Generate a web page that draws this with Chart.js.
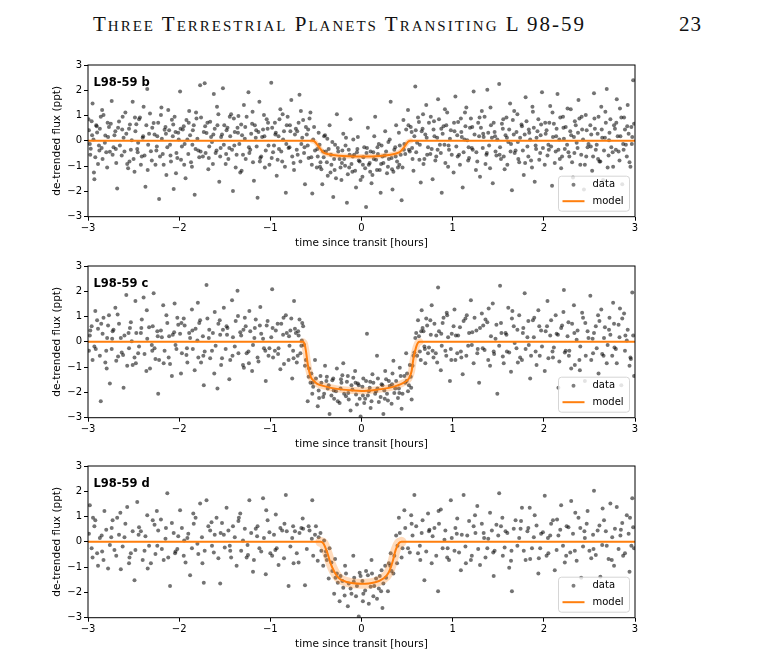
<!DOCTYPE html>
<html>
<head>
<meta charset="utf-8">
<script src="https://cdn.jsdelivr.net/npm/chart.js@4.4.1/dist/chart.umd.min.js"></script>
<style>
  body { margin: 0; background: #fff; }
  #page { position: relative; width: 775px; height: 665px; overflow: hidden; background: #fff; }
  .runhead { position: absolute; top: 13px; left: 93px; font-family: "Liberation Serif", "DejaVu Serif", serif;
             font-size: 21px; font-variant: small-caps; letter-spacing: 2px; line-height: 22px; color: #111; white-space: nowrap; }
  .folio { position: absolute; top: 13px; left: 679px; font-family: "Liberation Serif", "DejaVu Serif", serif;
           font-size: 21px; letter-spacing: 1px; line-height: 22px; color: #111; }
  canvas { position: absolute; left: 40px; }
</style>
</head>
<body>
<div id="page">
  <div class="runhead">Three Terrestrial Planets Transiting L 98-59</div>
  <div class="folio">23</div>
  <canvas id="panelB" width="610" height="200" style="top:55px"></canvas>
  <canvas id="panelC" width="610" height="200" style="top:256px"></canvas>
  <canvas id="panelD" width="610" height="200" style="top:456px"></canvas>
</div>
<script>
// axis ticks (hours / ppt)
const xTicks = [-3, -2, -1, 0, 1, 2, 3];
const yTicks = [-3, -2, -1, 0, 1, 2, 3];
const legendLabels = ['data', 'model'];

// L98-59 b : phase-folded points [time, flux]
const bPoints = [
  [-2.99,0.42],[-2.97,-0.31],[-2.95,1.48],[-2.93,-1.52],[-2.91,0.62],[-2.88,-0.18],[-2.86,0.95],[-2.84,-0.72],[-2.81,0.21],[-2.79,-1.05],[-2.77,0.55],[-2.76,-0.43],
  [-2.74,1.58],[-2.72,-0.25],[-2.70,0.38],[-2.68,-1.88],[-2.66,0.77],[-2.63,-0.58],[-2.61,0.12],[-2.59,1.12],[-2.57,-0.92],[-2.55,0.48],[-2.53,-0.35],[-2.51,1.55],
  [-2.49,-1.22],[-2.47,0.66],[-2.45,-0.08],[-2.43,0.92],[-2.41,-0.62],[-2.39,1.35],[-2.37,-1.82],[-2.35,2.05],[-2.33,0.28],[-2.31,-0.41],[-2.28,0.71],[-2.26,-0.95],
  [-2.24,0.18],[-2.22,-2.30],[-2.20,1.02],[-2.18,-0.52],[-2.16,0.44],[-2.14,-1.35],[-2.12,1.22],[-2.10,-0.15],[-2.08,0.83],[-2.06,-1.90],[-2.04,0.35],[-2.02,-0.68],
  [-1.99,1.95],[-1.97,-0.22],[-1.95,0.58],[-1.93,-1.48],[-1.91,0.05],[-1.89,1.18],[-1.87,-0.85],[-1.85,0.42],[-1.83,-2.13],[-1.81,0.88],[-1.79,-0.38],[-1.77,2.20],
  [-1.74,-0.62],[-1.72,2.28],[-1.70,0.31],[-1.68,-1.12],[-1.66,0.76],[-1.64,-0.05],[-1.62,1.85],[-1.60,-0.48],[-1.58,0.62],[-1.56,-1.62],[-1.54,0.15],[-1.52,2.08],
  [-1.49,-0.92],[-1.47,0.52],[-1.45,-0.28],[-1.43,1.05],[-1.41,-1.98],[-1.39,0.35],[-1.37,-0.55],[-1.35,0.98],[-1.33,-1.25],[-1.31,0.22],[-1.29,1.42],[-1.27,-0.72],
  [-1.24,1.92],[-1.22,-0.35],[-1.20,0.68],[-1.18,-1.58],[-1.16,0.12],[-1.14,-2.25],[-1.12,1.55],[-1.10,-0.62],[-1.08,0.45],[-1.06,-1.05],[-1.04,0.85],[-1.02,-0.18],
  [-0.99,2.30],[-0.97,-0.45],[-0.95,0.72],[-0.93,-1.38],[-0.91,0.18],[-0.89,1.25],[-0.87,-0.82],[-0.85,0.38],[-0.83,-2.05],[-0.81,0.95],[-0.79,-0.25],[-0.77,1.62],
  [-0.74,-1.15],[-0.72,0.48],[-0.70,-0.55],[-0.68,1.82],[-0.66,-0.12],[-0.64,0.82],[-0.62,-1.72],[-0.60,0.25],[-0.58,-0.68],[-0.56,1.12],[-0.54,-2.08],[-0.52,0.55],
  [-0.49,-1.05],[-0.47,0.32],[-0.45,-0.85],[-0.43,-1.72],[-0.41,0.18],[-0.39,-0.42],[-0.37,-1.38],[-0.35,0.62],[-0.33,-0.95],[-0.31,-2.22],[-0.29,-0.15],[-0.27,1.05],
  [-0.24,-0.72],[-0.22,-1.55],[-0.20,0.28],[-0.18,-0.98],[-0.16,-2.45],[-0.14,-0.35],[-0.12,0.85],[-0.10,-1.22],[-0.08,-0.55],[-0.06,-1.85],[-0.04,0.15],[-0.02,-0.82],
  [0.01,-1.42],[0.03,-0.25],[0.05,-2.62],[0.07,0.52],[0.09,-0.88],[0.11,-1.68],[0.13,-0.45],[0.15,0.95],[0.17,-1.15],[0.19,-0.12],[0.21,-2.05],[0.23,-0.62],
  [0.26,0.38],[0.28,-1.28],[0.30,-0.72],[0.32,1.55],[0.34,-1.92],[0.36,-0.35],[0.38,0.62],[0.40,-1.05],[0.42,-0.18],[0.44,-2.35],[0.46,0.82],[0.48,-0.52],
  [0.51,1.22],[0.53,-0.42],[0.55,0.35],[0.57,-1.18],[0.59,2.15],[0.61,-0.08],[0.63,0.75],[0.65,-1.65],[0.67,0.48],[0.69,-0.72],[0.71,1.42],[0.73,-0.25],
  [0.76,0.95],[0.78,-1.52],[0.80,0.18],[0.82,-0.62],[0.84,1.65],[0.86,-0.15],[0.88,-2.05],[0.90,0.58],[0.92,-0.88],[0.94,1.12],[0.96,-0.35],[0.98,0.42],
  [1.01,-1.25],[1.03,1.75],[1.05,0.22],[1.07,-0.55],[1.09,0.88],[1.11,-1.85],[1.13,0.05],[1.15,1.32],[1.17,-0.78],[1.19,0.52],[1.21,-0.28],[1.23,1.95],
  [1.26,-0.45],[1.28,0.72],[1.30,-1.42],[1.32,1.18],[1.34,0.15],[1.36,-0.92],[1.38,2.02],[1.40,-0.18],[1.42,0.62],[1.44,-1.68],[1.46,0.35],[1.48,-0.58],
  [1.51,2.25],[1.53,-0.72],[1.55,0.48],[1.57,-1.12],[1.59,0.92],[1.61,-0.05],[1.63,1.48],[1.65,-1.95],[1.67,0.25],[1.69,-0.38],[1.71,1.05],[1.73,-0.85],
  [1.76,0.58],[1.78,-1.35],[1.80,1.72],[1.82,-0.22],[1.84,0.32],[1.86,-0.78],[1.88,1.15],[1.90,-1.62],[1.92,0.12],[1.94,0.85],[1.96,-0.48],[1.98,1.92],
  [2.01,-0.95],[2.03,0.42],[2.05,-0.15],[2.07,1.38],[2.09,-1.78],[2.11,0.68],[2.13,-0.42],[2.15,1.85],[2.17,0.05],[2.19,-1.08],[2.21,0.95],[2.23,-0.32],
  [2.26,1.28],[2.28,-0.62],[2.30,0.22],[2.32,-1.45],[2.34,0.78],[2.36,-0.08],[2.38,1.62],[2.40,-0.95],[2.42,0.45],[2.44,-1.92],[2.46,1.02],[2.48,-0.25],
  [2.51,0.62],[2.53,-1.18],[2.55,1.88],[2.57,-0.35],[2.59,0.28],[2.61,-0.82],[2.63,1.35],[2.65,-1.55],[2.67,0.12],[2.69,2.05],[2.71,-0.58],[2.73,0.85],
  [2.76,-1.02],[2.78,0.48],[2.80,1.65],[2.82,-0.42],[2.84,0.18],[2.86,-1.72],[2.88,0.92],[2.90,-0.15],[2.92,1.42],[2.94,-0.85],[2.96,0.55],[2.98,2.40],
  [-2.98,-0.12],[-2.96,0.78],[-2.94,0.05],[-2.92,-0.65],[-2.90,0.33],[-2.89,-0.92],[-2.87,0.48],[-2.85,-0.28],[-2.83,1.02],[-2.80,-0.45],[-2.78,0.15],[-2.75,0.68],
  [-2.73,-0.55],[-2.71,0.22],[-2.69,-0.88],[-2.67,0.52],[-2.65,-0.18],[-2.62,0.95],[-2.60,-0.42],[-2.58,0.28],[-2.56,-1.08],[-2.54,0.65],[-2.52,0.02],[-2.50,-0.72],
  [-2.48,0.38],[-2.46,-0.32],[-2.44,0.85],[-2.42,-0.95],[-2.40,0.12],[-2.38,-0.58],[-2.36,0.62],[-2.34,-0.15],[-2.32,1.08],[-2.30,-0.78],[-2.27,0.25],[-2.25,-0.38],
  [-2.23,0.72],[-2.21,-0.62],[-2.19,0.08],[-2.17,-0.95],[-2.15,0.55],[-2.13,-0.25],[-2.11,0.42],[-2.09,-0.82],[-2.07,0.18],[-2.05,0.95],[-2.03,-0.48],[-2.01,0.32],
  [-1.98,-0.75],[-1.96,0.45],[-1.94,-0.12],[-1.92,0.82],[-1.90,-0.52],[-1.88,0.22],[-1.86,-1.02],[-1.84,0.62],[-1.82,-0.32],[-1.80,0.08],[-1.78,-0.65],[-1.76,0.92],
  [-1.73,0.35],[-1.71,-0.48],[-1.69,0.72],[-1.67,-0.22],[-1.65,0.15],[-1.63,-0.92],[-1.61,0.48],[-1.59,-0.38],[-1.57,1.05],[-1.55,-0.62],[-1.53,0.25],[-1.51,-0.15],
  [-1.48,0.42],[-1.46,-0.72],[-1.44,0.18],[-1.42,-0.35],[-1.40,0.88],[-1.38,-1.05],[-1.36,0.52],[-1.34,-0.12],[-1.32,0.65],[-1.30,-0.55],[-1.28,0.08],[-1.26,0.95],
  [-1.23,-0.48],[-1.21,0.28],[-1.19,-0.85],[-1.17,0.62],[-1.15,-0.22],[-1.13,0.35],[-1.11,-0.68],[-1.09,0.15],[-1.07,1.02],[-1.05,-0.38],[-1.03,0.48],[-1.01,-0.95],
  [-0.98,0.52],[-0.96,-0.18],[-0.94,0.32],[-0.92,-0.75],[-0.90,0.85],[-0.88,-0.42],[-0.86,0.05],[-0.84,-1.02],[-0.82,0.62],[-0.80,-0.28],[-0.78,0.38],[-0.76,-0.62],
  [-0.73,0.25],[-0.71,-0.35],[-0.69,0.72],[-0.67,-0.82],[-0.65,0.12],[-0.63,-0.48],[-0.61,0.55],[-0.59,-0.18],[-0.57,0.88],[-0.55,-0.65],[-0.53,0.05],[-0.51,-0.38],
  [-0.48,-0.62],[-0.46,-0.15],[-0.44,-1.12],[-0.42,-0.42],[-0.40,0.22],[-0.38,-0.85],[-0.36,-0.32],[-0.34,-1.25],[-0.32,-0.05],[-0.30,-0.72],[-0.28,-1.48],[-0.26,-0.28],
  [-0.23,-1.05],[-0.21,-0.38],[-0.19,-0.72],[-0.17,0.12],[-0.15,-1.32],[-0.13,-0.55],[-0.11,-0.92],[-0.09,0.05],[-0.07,-1.18],[-0.05,-0.45],[-0.03,-0.78],[-0.01,-1.55],
  [0.02,-0.65],[0.04,-1.08],[0.06,-0.28],[0.08,-0.95],[0.10,-0.42],[0.12,-1.35],[0.14,0.18],[0.16,-0.75],[0.18,-0.52],[0.20,-1.15],[0.22,-0.18],[0.24,-0.88],
  [0.27,-0.42],[0.29,-1.02],[0.31,0.05],[0.33,-0.68],[0.35,-1.22],[0.37,-0.25],[0.39,-0.82],[0.41,0.32],[0.43,-0.55],[0.45,-1.05],[0.47,-0.12],[0.49,0.45],
  [0.52,-0.35],[0.54,0.55],[0.56,-0.72],[0.58,0.18],[0.60,-0.45],[0.62,0.92],[0.64,-0.15],[0.66,0.38],[0.68,-0.92],[0.70,0.25],[0.72,-0.55],[0.74,0.72],
  [0.77,-0.32],[0.79,0.45],[0.81,-0.78],[0.83,0.12],[0.85,0.85],[0.87,-0.48],[0.89,0.28],[0.91,-0.15],[0.93,0.62],[0.95,-1.02],[0.97,0.08],[0.99,-0.55],
  [1.02,0.38],[1.04,-0.22],[1.06,0.75],[1.08,-0.95],[1.10,0.15],[1.12,-0.45],[1.14,0.58],[1.16,0.02],[1.18,-0.68],[1.20,0.88],[1.22,-0.35],[1.24,0.25],
  [1.27,-0.82],[1.29,0.18],[1.31,0.52],[1.33,-0.28],[1.35,0.95],[1.37,-0.55],[1.39,0.32],[1.41,-1.08],[1.43,0.12],[1.45,0.72],[1.47,-0.42],[1.49,0.05],
  [1.52,-0.25],[1.54,0.68],[1.56,-0.62],[1.58,0.22],[1.60,-0.95],[1.62,0.45],[1.64,-0.12],[1.66,0.82],[1.68,-0.48],[1.70,0.35],[1.72,-0.72],[1.74,0.12],
  [1.77,-0.38],[1.79,0.25],[1.81,0.78],[1.83,-0.62],[1.85,0.05],[1.87,-1.05],[1.89,0.52],[1.91,-0.18],[1.93,0.38],[1.95,-0.75],[1.97,0.65],[1.99,-0.28],
  [2.02,0.28],[2.04,-0.58],[2.06,0.72],[2.08,-0.22],[2.10,0.15],[2.12,-0.88],[2.14,0.48],[2.16,-0.35],[2.18,0.92],[2.20,-0.62],[2.22,0.08],[2.24,0.55],
  [2.27,-0.45],[2.29,0.38],[2.31,-0.85],[2.33,0.15],[2.35,0.62],[2.37,-0.28],[2.39,0.88],[2.41,-0.55],[2.43,0.05],[2.45,-0.95],[2.47,0.42],[2.49,-0.12],
  [2.52,0.25],[2.54,-0.62],[2.56,0.48],[2.58,-0.15],[2.60,0.95],[2.62,-0.82],[2.64,0.12],[2.66,-0.38],[2.68,0.72],[2.70,-1.05],[2.72,0.32],[2.74,-0.25],
  [2.77,0.62],[2.79,-0.35],[2.81,0.18],[2.83,-0.78],[2.85,0.92],[2.87,-0.12],[2.89,0.45],[2.91,-0.62],[2.93,0.28],[2.95,-1.02],[2.97,0.15],[2.99,0.68],
  [-2.995,0.85],[-2.975,-0.55],[-2.955,0.22],[-2.935,-1.25],[-2.905,0.58],[-2.875,-0.38],[-2.845,1.22],[-2.815,-0.08],[-2.785,0.72],[-2.695,-0.32],[-2.625,0.45],[-2.545,-0.82],
  [-2.485,0.92],[-2.455,-0.45],[-2.395,0.18],[-2.345,-1.15],[-2.295,0.52],[-2.245,-0.22],[-2.195,1.32],[-2.145,0.28],[-2.095,-0.58],[-2.065,0.65],[-2.035,-1.28],[-2.005,0.05],
  [-1.985,0.48],[-1.945,-0.95],[-1.895,0.72],[-1.855,-0.15],[-1.815,1.12],[-1.765,-0.42],[-1.715,0.58],[-1.675,-0.68],[-1.625,0.25],[-1.585,1.35],[-1.545,-0.28],[-1.505,0.62],
  [-1.485,-0.52],[-1.445,0.95],[-1.395,-0.18],[-1.355,0.32],[-1.315,-1.18],[-1.275,0.55],[-1.235,-0.25],[-1.195,1.15],[-1.155,0.42],[-1.115,-0.82],[-1.065,0.18],[-1.025,0.72],
  [-0.985,-0.68],[-0.945,0.25],[-0.905,-0.32],[-0.865,1.05],[-0.825,-0.12],[-0.785,0.62],[-0.745,-0.88],[-0.705,0.38],[-0.665,1.18],[-0.625,-0.25],[-0.585,0.45],[-0.545,-0.95],
  [-0.485,-0.32],[-0.455,-1.02],[-0.415,-0.65],[-0.375,0.08],[-0.335,-0.55],[-0.295,-1.15],[-0.255,-0.42],[-0.215,-0.88],[-0.175,-0.18],[-0.135,-1.05],[-0.095,-0.62],[-0.045,-0.32],
  [0.015,-0.95],[0.055,-0.48],[0.095,-1.22],[0.135,-0.72],[0.175,-0.25],[0.215,-0.92],[0.255,-0.58],[0.295,-0.05],[0.335,-1.12],[0.375,-0.62],[0.415,-0.95],[0.465,-0.35],
  [0.515,0.62],[0.555,-0.28],[0.595,0.42],[0.635,-0.75],[0.675,1.05],[0.715,0.12],[0.755,-0.52],[0.795,0.78],[0.835,-0.35],[0.875,0.48],[0.915,1.25],[0.955,-0.18],
  [1.015,0.72],[1.055,-0.62],[1.095,0.35],[1.135,1.12],[1.175,-0.25],[1.215,0.55],[1.255,-1.15],[1.295,0.92],[1.335,0.28],[1.375,-0.48],[1.415,1.32],[1.465,0.18],
  [1.515,-0.55],[1.555,0.85],[1.595,0.12],[1.635,-0.42],[1.675,1.18],[1.715,-0.05],[1.755,0.65],[1.795,-0.88],[1.835,0.45],[1.875,1.35],[1.915,-0.32],[1.965,0.22],
  [2.015,0.72],[2.055,-0.35],[2.095,1.12],[2.135,0.18],[2.175,-0.72],[2.215,0.52],[2.255,-0.15],[2.295,1.25],[2.335,-0.48],[2.375,0.32],[2.415,0.95],[2.465,-0.62],
  [2.515,-0.22],[2.555,0.88],[2.595,-0.72],[2.635,0.45],[2.675,1.15],[2.715,0.02],[2.755,-0.45],[2.795,0.72],[2.835,1.28],[2.875,-0.35],[2.915,0.58],[2.965,-0.12]
];
const bModel = [
  [-3,0],[-0.54,0],[-0.51,-0.04],[-0.47,-0.23],[-0.42,-0.45],[-0.36,-0.53],[-0.25,-0.59],[0,-0.62],
  [0.2,-0.6],[0.3,-0.56],[0.38,-0.5],[0.42,-0.44],[0.47,-0.24],[0.51,-0.04],[0.54,0],[3,0]
];

// L98-59 c
const cPoints = [
  [-2.98,0.25],[-2.95,-0.72],[-2.92,1.22],[-2.89,0.52],[-2.86,-2.35],[-2.83,0.95],[-2.80,-0.35],[-2.78,0.65],[-2.76,-1.65],
  [-2.73,0.42],[-2.70,1.35],[-2.67,-0.58],[-2.64,0.15],[-2.61,-1.82],[-2.58,1.85],[-2.55,-0.25],[-2.53,0.78],[-2.51,-0.92],
  [-2.48,1.62],[-2.45,-0.45],[-2.42,0.35],[-2.39,1.75],[-2.36,-1.15],[-2.33,0.58],[-2.30,-0.12],[-2.28,1.92],[-2.26,-0.68],
  [-2.23,-2.05],[-2.20,0.45],[-2.17,-0.85],[-2.14,1.05],[-2.11,0.22],[-2.08,-1.35],[-2.05,1.52],[-2.03,-0.28],[-2.01,0.68],
  [-1.98,-1.25],[-1.95,0.92],[-1.92,-0.52],[-1.89,0.35],[-1.86,1.28],[-1.83,-1.12],[-1.80,0.05],[-1.78,0.75],[-1.76,-0.82],
  [-1.73,-1.72],[-1.70,2.25],[-1.67,0.48],[-1.64,-0.35],[-1.61,1.18],[-1.58,-1.85],[-1.55,0.28],[-1.53,-0.65],[-1.51,1.35],
  [-1.48,0.62],[-1.45,-1.48],[-1.42,1.65],[-1.39,-0.18],[-1.36,2.02],[-1.33,0.38],[-1.30,-0.92],[-1.28,0.95],[-1.26,-0.45],
  [-1.23,1.22],[-1.20,-1.15],[-1.17,0.55],[-1.14,-0.62],[-1.11,1.38],[-1.08,0.12],[-1.05,-1.55],[-1.03,0.82],[-1.01,-0.25],
  [-0.98,2.08],[-0.95,-0.35],[-0.92,0.72],[-0.89,-1.08],[-0.86,0.28],[-0.83,1.05],[-0.80,-0.72],[-0.78,0.45],[-0.76,-1.45],
  [-0.74,1.62],[-0.72,0.35],[-0.70,-0.55],[-0.68,0.88],[-0.66,-0.15],[-0.64,0.62],[-0.62,-0.95],[-0.59,-2.35],[-0.56,-1.62],
  [-0.54,-2.05],[-0.51,-0.72],[-0.48,-2.55],[-0.45,-1.35],[-0.42,-2.18],[-0.40,-0.95],[-0.37,-1.85],[-0.35,-2.85],[-0.32,-1.52],[-0.30,-2.25],[-0.27,-1.05],
  [-0.24,-2.42],[-0.22,-1.62],[-0.20,-0.85],[-0.17,-2.15],[-0.15,-1.35],[-0.12,-2.72],[-0.10,-1.88],[-0.07,-1.15],[-0.05,-2.48],[-0.03,-1.72],[-0.01,-2.95],
  [0.02,-1.45],[0.04,-2.25],[0.06,0.32],[0.08,-1.95],[0.10,-2.62],[0.12,-1.28],[0.15,-2.05],[0.17,-0.55],[0.19,-2.38],[0.22,-1.68],[0.24,-2.85],
  [0.26,-1.15],[0.28,-2.05],[0.30,-1.55],[0.33,-2.45],[0.35,-0.75],[0.37,-1.85],[0.40,-2.22],[0.42,-1.02],[0.44,-2.65],[0.47,-1.35],[0.49,-0.45],
  [0.51,-1.95],[0.53,-0.92],[0.55,-2.28],[0.57,-0.55],[0.59,0.15],[0.62,0.85],[0.64,-0.38],[0.66,1.25],[0.68,0.42],[0.70,-0.85],[0.72,0.65],[0.74,-0.22],
  [0.77,1.45],[0.79,-0.62],[0.82,0.25],[0.84,2.15],[0.87,-1.12],[0.89,0.75],[0.92,-0.35],[0.94,1.05],[0.97,-1.55],[0.99,0.32],
  [1.02,1.28],[1.05,-0.45],[1.08,0.58],[1.11,-1.28],[1.14,0.92],[1.17,-0.15],[1.20,1.65],[1.23,-0.85],
  [1.26,0.45],[1.29,-1.62],[1.32,1.12],[1.35,-0.32],[1.38,0.78],[1.41,-0.95],[1.44,1.52],[1.47,0.12],[1.49,-2.05],
  [1.52,2.22],[1.55,-0.58],[1.58,0.35],[1.61,1.35],[1.64,-1.18],[1.67,0.62],[1.70,-0.25],[1.73,1.05],
  [1.76,-0.72],[1.79,1.92],[1.82,0.18],[1.85,-1.45],[1.88,0.85],[1.91,-0.38],[1.94,1.25],[1.97,0.45],
  [2.01,-1.15],[2.04,1.62],[2.07,0.25],[2.10,-0.62],[2.13,1.05],[2.16,-1.82],[2.19,0.55],[2.22,2.05],[2.24,-0.35],
  [2.27,0.78],[2.30,-1.05],[2.33,1.45],[2.36,0.08],[2.39,-0.72],[2.42,1.15],[2.45,-1.55],[2.48,0.42],
  [2.51,1.82],[2.54,-0.45],[2.57,0.62],[2.60,-1.25],[2.63,1.28],[2.66,0.15],[2.69,-0.85],[2.72,0.95],
  [2.76,1.55],[2.79,-0.28],[2.82,0.68],[2.85,-1.72],[2.88,1.12],[2.91,0.05],[2.94,-0.95],[2.97,1.95],[2.99,-1.35],
  [-2.99,-0.35],[-2.96,0.62],[-2.93,-0.18],[-2.90,0.85],[-2.87,-0.55],[-2.84,0.32],[-2.81,-0.82],[-2.79,0.15],[-2.77,1.05],
  [-2.74,-0.28],[-2.72,0.48],[-2.69,-0.75],[-2.66,0.72],[-2.63,-0.42],[-2.60,0.25],[-2.57,-0.95],[-2.54,0.55],[-2.52,0.02],
  [-2.49,-0.62],[-2.47,0.35],[-2.44,-0.18],[-2.41,0.88],[-2.38,-0.48],[-2.35,0.12],[-2.32,-1.05],[-2.29,0.62],[-2.27,-0.25],
  [-2.24,0.42],[-2.22,-0.72],[-2.19,0.18],[-2.16,-0.35],[-2.13,0.75],[-2.10,-0.88],[-2.07,0.28],[-2.04,-0.12],[-2.02,0.95],
  [-1.99,0.32],[-1.97,-0.45],[-1.94,0.65],[-1.91,-0.82],[-1.88,0.15],[-1.85,-0.28],[-1.82,0.52],[-1.79,-0.62],[-1.77,0.85],
  [-1.74,0.22],[-1.72,-0.38],[-1.69,0.92],[-1.66,-0.65],[-1.63,0.35],[-1.60,-0.15],[-1.57,0.72],[-1.54,-0.92],[-1.52,0.48],
  [-1.49,-0.28],[-1.47,0.55],[-1.44,-0.72],[-1.41,0.18],[-1.38,0.82],[-1.35,-0.45],[-1.32,0.25],[-1.29,-1.02],[-1.27,0.62],
  [-1.24,-0.38],[-1.22,0.42],[-1.19,-0.12],[-1.16,0.88],[-1.13,-0.78],[-1.10,0.32],[-1.07,-0.25],[-1.04,0.65],[-1.02,-0.55],
  [-0.99,0.18],[-0.97,-0.62],[-0.94,0.45],[-0.91,-0.25],[-0.88,0.72],[-0.85,-0.88],[-0.82,0.35],[-0.79,-0.15],[-0.77,0.92],
  [-0.75,-0.35],[-0.73,0.52],[-0.71,-0.82],[-0.69,0.25],[-0.67,-0.45],[-0.65,0.75],[-0.63,-0.12],[-0.61,-0.72],[-0.58,-1.38],
  [-0.55,-1.25],[-0.53,-1.78],[-0.50,-1.45],[-0.47,-1.92],[-0.44,-1.62],[-0.41,-2.05],[-0.38,-1.38],[-0.36,-1.72],[-0.33,-2.12],[-0.31,-1.45],[-0.28,-1.95],[-0.26,-2.35],
  [-0.23,-1.85],[-0.21,-1.32],[-0.19,-2.05],[-0.16,-1.58],[-0.14,-2.28],[-0.11,-1.72],[-0.09,-1.42],[-0.06,-2.08],[-0.04,-1.65],[-0.02,-2.25],
  [0.01,-1.78],[0.03,-2.42],[0.05,-1.55],[0.07,-2.12],[0.09,-1.82],[0.11,-2.35],[0.13,-1.62],[0.16,-1.95],[0.18,-1.45],[0.21,-2.18],[0.23,-1.72],
  [0.25,-1.92],[0.27,-1.48],[0.29,-2.32],[0.31,-1.75],[0.34,-1.25],[0.36,-2.02],[0.38,-1.55],[0.41,-1.85],[0.43,-1.35],[0.45,-2.05],[0.48,-1.62],
  [0.50,-1.25],[0.52,-1.72],[0.54,-1.38],[0.56,-0.95],[0.58,-0.42],[0.60,0.35],[0.61,-0.55],[0.63,0.22],[0.65,-0.72],[0.67,0.55],[0.69,-0.18],[0.71,0.92],[0.73,-0.45],
  [0.76,0.28],[0.78,-0.35],[0.80,0.72],[0.83,-0.82],[0.85,0.42],[0.88,-0.15],[0.90,0.95],[0.93,-0.55],[0.95,0.18],[0.98,-0.28],
  [1.01,0.62],[1.03,-0.72],[1.06,0.25],[1.09,-0.38],[1.12,0.82],[1.15,-0.55],[1.18,0.35],[1.21,-0.12],[1.24,0.95],
  [1.27,-0.45],[1.30,0.55],[1.33,-0.25],[1.36,0.88],[1.39,-0.72],[1.42,0.22],[1.45,-0.38],[1.48,0.68],
  [1.51,-0.15],[1.53,0.75],[1.56,-0.85],[1.59,0.28],[1.62,-0.42],[1.65,0.92],[1.68,-0.05],[1.71,0.48],[1.74,-0.62],
  [1.77,0.35],[1.80,-0.28],[1.83,0.82],[1.86,-0.55],[1.89,0.18],[1.92,-0.92],[1.95,0.62],[1.98,-0.18],
  [2.02,0.42],[2.05,-0.65],[2.08,0.85],[2.11,-0.22],[2.14,0.32],[2.17,-0.78],[2.20,0.65],[2.23,-0.42],
  [2.26,0.22],[2.28,-0.35],[2.31,0.72],[2.34,-0.92],[2.37,0.45],[2.40,-0.18],[2.43,0.95],[2.46,-0.55],[2.49,0.15],
  [2.52,-0.72],[2.55,0.35],[2.58,-0.25],[2.61,0.82],[2.64,-0.48],[2.67,0.58],[2.70,-0.12],[2.73,0.28],
  [2.75,-0.55],[2.77,0.72],[2.80,-0.85],[2.83,0.18],[2.86,0.92],[2.89,-0.35],[2.92,0.48],[2.95,-0.62],[2.98,0.25],
  [-2.975,0.45],[-2.915,-0.28],[-2.855,0.72],[-2.795,-1.05],[-2.735,0.12],[-2.675,1.08],[-2.615,-0.52],[-2.555,0.35],
  [-2.475,-0.85],[-2.415,0.55],[-2.355,1.25],[-2.295,-0.35],[-2.235,0.22],[-2.175,1.45],[-2.115,-0.62],[-2.055,0.38],
  [-1.975,0.75],[-1.915,-0.25],[-1.855,0.45],[-1.795,1.55],[-1.735,-0.55],[-1.675,0.15],[-1.615,-1.25],[-1.555,0.85],
  [-1.475,0.28],[-1.415,-0.55],[-1.355,1.02],[-1.295,0.48],[-1.235,-0.85],[-1.175,0.15],[-1.115,0.65],[-1.055,-0.35],
  [-0.975,0.55],[-0.915,-0.48],[-0.855,0.95],[-0.795,0.22],[-0.745,-0.65],[-0.695,0.42],[-0.655,0.05],
  [-0.575,-1.05],[-0.535,-1.62],[-0.465,-2.22],[-0.385,-1.55],[-0.305,-1.92],[-0.225,-1.48],[-0.145,-2.02],[-0.065,-1.62],
  [0.015,-2.12],[0.095,-1.58],[0.175,-1.85],[0.255,-2.25],[0.335,-1.68],[0.415,-2.02],[0.495,-1.55],[0.545,-1.82],
  [0.655,0.42],[0.695,-0.28],[0.755,0.85],[0.815,-0.45],[0.875,0.32],[0.935,1.15],[0.985,-0.72],
  [1.035,0.25],[1.095,-0.62],[1.155,1.05],[1.215,0.38],[1.275,-0.28],[1.335,0.65],[1.395,1.32],[1.455,-0.48],
  [1.535,0.35],[1.595,-0.38],[1.655,1.22],[1.715,-0.82],[1.775,0.55],[1.835,-0.12],[1.895,0.95],[1.955,-0.55],
  [2.035,0.62],[2.095,-0.38],[2.155,0.28],[2.215,1.18],[2.275,-0.55],[2.335,0.35],[2.395,-1.12],[2.455,0.75],
  [2.535,0.12],[2.595,1.05],[2.655,-0.55],[2.715,0.48],[2.775,-0.22],[2.835,1.32],[2.895,0.25],[2.955,-0.68]
];
const cModel = [
  [-3,0],[-0.64,0],[-0.625,-0.08],[-0.61,-0.35],[-0.595,-0.75],[-0.58,-1.08],[-0.555,-1.4],[-0.52,-1.55],[-0.49,-1.65],
  [-0.4,-1.76],[-0.27,-1.86],[-0.1,-1.92],[0,-1.94],[0.15,-1.9],[0.3,-1.82],[0.39,-1.73],[0.46,-1.62],[0.52,-1.45],
  [0.55,-1.15],[0.57,-0.65],[0.6,-0.2],[0.62,-0.03],[0.64,0],[3,0]
];

// L98-59 d
const dPoints = [
  [-2.98,1.45],[-2.95,-0.62],[-2.92,0.85],[-2.89,-0.95],[-2.85,0.25],[-2.82,1.22],[-2.78,-1.05],
  [-2.74,0.55],[-2.71,-0.32],[-2.68,0.95],[-2.64,-1.08],[-2.60,0.18],[-2.57,1.38],[-2.53,-0.45],
  [-2.49,-1.52],[-2.46,1.58],[-2.42,0.42],[-2.38,-0.35],[-2.35,1.05],[-2.31,-0.85],[-2.27,0.68],
  [-2.24,-0.15],[-2.20,0.88],[-2.17,-0.72],[-2.13,1.92],[-2.10,-1.75],[-2.06,0.35],[-2.02,-0.28],
  [-1.99,1.25],[-1.95,-0.55],[-1.91,0.15],[-1.88,-1.32],[-1.84,0.72],[-1.80,-0.08],[-1.77,1.52],
  [-1.73,-1.62],[-1.70,1.65],[-1.66,0.45],[-1.62,-0.42],[-1.59,0.95],[-1.55,-1.65],[-1.51,0.28],
  [-1.48,1.35],[-1.44,-0.35],[-1.41,0.62],[-1.37,-0.95],[-1.33,1.12],[-1.30,0.05],[-1.26,-0.62],
  [-1.23,1.65],[-1.19,-1.18],[-1.16,0.52],[-1.12,-0.25],[-1.08,1.72],[-1.05,-1.28],[-1.01,0.38],
  [-0.98,-0.55],[-0.94,1.08],[-0.91,-0.92],[-0.87,0.45],[-0.83,1.85],[-0.80,-1.75],[-0.76,0.15],
  [-0.73,0.42],[-0.69,-0.82],[-0.66,0.55],[-0.62,-1.72],[-0.58,0.62],[-0.54,1.65],[-0.51,0.28],
  [-0.48,-0.75],[-0.45,0.35],[-0.42,-0.95],[-0.39,-0.38],[-0.36,-1.45],[-0.33,-0.82],[-0.30,-2.05],[-0.27,-1.25],
  [-0.24,-2.35],[-0.21,-1.55],[-0.18,-0.95],[-0.15,-2.55],[-0.12,-1.85],[-0.09,-0.55],[-0.06,-2.15],[-0.03,-2.95],[-0.01,-1.35],
  [0.02,-2.05],[0.05,-1.15],[0.08,-2.45],[0.11,-0.72],[0.14,-1.75],[0.17,-2.25],[0.20,-1.35],[0.23,-2.62],
  [0.26,-0.95],[0.29,-1.95],[0.32,-0.45],[0.35,-1.25],[0.38,0.25],[0.41,0.95],[0.44,-0.62],[0.47,1.25],
  [0.51,-0.25],[0.55,0.72],[0.58,1.85],[0.62,-0.45],[0.66,0.35],[0.69,-1.52],[0.73,1.12],
  [0.77,-0.85],[0.80,0.55],[0.84,-1.95],[0.87,1.28],[0.91,0.08],[0.94,-0.62],[0.98,1.65],
  [1.02,-0.35],[1.05,0.92],[1.09,-1.12],[1.12,1.85],[1.16,0.25],[1.20,-0.72],[1.23,0.62],
  [1.27,1.42],[1.30,-0.92],[1.34,0.35],[1.38,-0.25],[1.41,1.15],[1.45,-1.35],[1.48,0.68],
  [1.51,1.92],[1.55,-0.55],[1.58,0.42],[1.62,-1.02],[1.65,-1.95],[1.69,0.85],[1.73,0.15],
  [1.76,1.35],[1.80,-0.72],[1.83,0.55],[1.87,-0.25],[1.90,1.05],[1.94,-1.25],[1.97,0.32],
  [2.01,1.82],[2.05,-0.45],[2.08,0.72],[2.12,-1.12],[2.16,0.25],[2.19,1.45],[2.23,-0.82],
  [2.27,0.58],[2.30,1.62],[2.34,-0.35],[2.38,0.95],[2.41,-1.42],[2.45,0.15],[2.48,1.22],
  [2.52,-0.65],[2.55,2.02],[2.59,0.45],[2.62,-1.38],[2.66,0.85],[2.69,-0.15],[2.73,1.52],
  [2.77,-0.95],[2.80,1.38],[2.84,0.25],[2.87,-0.55],[2.91,1.05],[2.94,-1.18],[2.97,1.72],[2.99,-0.25],
  [-2.99,0.32],[-2.96,-0.25],[-2.93,0.62],[-2.90,-0.45],[-2.87,0.15],[-2.83,-0.72],[-2.80,0.48],[-2.76,-0.12],
  [-2.73,0.85],[-2.69,-0.55],[-2.66,0.28],[-2.62,-0.18],[-2.59,0.72],[-2.55,-0.85],[-2.51,0.42],
  [-2.48,-0.32],[-2.44,0.58],[-2.40,-0.72],[-2.37,0.22],[-2.33,-0.15],[-2.29,0.85],[-2.26,-0.48],
  [-2.23,0.45],[-2.19,-0.28],[-2.15,0.12],[-2.12,-0.62],[-2.08,0.75],[-2.04,-0.38],[-2.01,0.22],
  [-1.97,0.55],[-1.93,-0.82],[-1.90,0.32],[-1.86,-0.25],[-1.82,0.95],[-1.79,-0.48],[-1.75,0.18],
  [-1.72,-0.35],[-1.68,0.62],[-1.64,-0.15],[-1.61,0.28],[-1.57,-0.65],[-1.53,0.75],[-1.50,-0.22],
  [-1.46,0.45],[-1.43,-0.62],[-1.39,0.18],[-1.35,0.82],[-1.32,-0.35],[-1.28,0.52],[-1.25,-0.12],
  [-1.21,0.35],[-1.18,-0.72],[-1.14,0.62],[-1.10,-0.38],[-1.07,0.15],[-1.03,0.85],[-1.00,-0.45],
  [-0.96,0.28],[-0.93,-0.25],[-0.89,0.55],[-0.85,-0.65],[-0.82,0.42],[-0.78,-0.18],[-0.75,0.62],
  [-0.71,-0.45],[-0.68,0.35],[-0.64,0.52],[-0.60,-0.28],[-0.57,0.45],[-0.53,-0.55],[-0.50,0.62],
  [-0.47,0.18],[-0.44,-0.35],[-0.41,0.05],[-0.38,-0.72],[-0.35,-0.25],[-0.32,-1.15],[-0.29,-0.68],[-0.26,-1.62],
  [-0.23,-1.35],[-0.20,-1.82],[-0.17,-1.25],[-0.14,-1.65],[-0.11,-2.05],[-0.08,-1.42],[-0.05,-1.75],[-0.02,-1.22],
  [0.01,-1.55],[0.04,-1.92],[0.07,-1.32],[0.10,-1.78],[0.13,-2.15],[0.16,-1.45],[0.19,-1.85],[0.22,-1.12],[0.24,-1.65],
  [0.27,-1.42],[0.30,-0.85],[0.33,-1.15],[0.36,-0.55],[0.39,-0.85],[0.42,0.35],[0.45,-0.25],[0.48,0.55],
  [0.53,-0.42],[0.56,0.25],[0.60,0.62],[0.64,-0.15],[0.67,0.85],[0.71,-0.38],[0.74,0.42],
  [0.78,0.22],[0.82,-0.55],[0.85,0.72],[0.89,-0.25],[0.92,0.45],[0.96,-0.72],[0.99,0.15],
  [1.03,0.55],[1.07,-0.42],[1.10,0.28],[1.14,-0.18],[1.18,0.82],[1.21,-0.55],[1.25,0.35],
  [1.28,-0.28],[1.32,0.72],[1.36,-0.62],[1.39,0.12],[1.43,0.45],[1.46,-0.35],[1.50,0.25],
  [1.53,0.62],[1.57,-0.22],[1.60,0.35],[1.64,-0.75],[1.67,0.52],[1.71,-0.15],[1.75,0.82],
  [1.78,-0.35],[1.82,0.42],[1.85,-0.68],[1.89,0.18],[1.92,0.65],[1.96,-0.25],[1.99,0.38],
  [2.03,-0.55],[2.07,0.25],[2.10,0.85],[2.14,-0.32],[2.18,0.48],[2.21,-0.15],[2.25,0.62],
  [2.29,-0.42],[2.32,0.32],[2.36,-0.75],[2.40,0.55],[2.43,-0.18],[2.47,0.72],[2.50,-0.35],
  [2.54,0.28],[2.57,-0.52],[2.61,0.65],[2.64,-0.12],[2.68,0.42],[2.71,-0.68],[2.75,0.18],
  [2.78,0.52],[2.82,-0.28],[2.86,0.75],[2.89,-0.45],[2.93,0.32],[2.96,-0.15],[2.98,0.58],
  [-2.945,0.95],[-2.845,-0.38],[-2.745,0.18],[-2.645,1.15],[-2.545,-0.62],
  [-2.445,0.28],[-2.345,-1.05],[-2.245,1.22],[-2.145,0.55],[-2.045,-0.45],
  [-1.945,0.05],[-1.845,1.12],[-1.745,-0.85],[-1.645,0.78],[-1.545,0.35],
  [-1.445,-0.15],[-1.345,0.95],[-1.245,-0.52],[-1.145,0.22],[-1.045,1.25],
  [-0.945,-0.32],[-0.845,0.72],[-0.745,-0.85],[-0.645,0.92],[-0.545,0.12],
  [-0.395,-0.55],[-0.285,-1.42],[-0.185,-2.12],[-0.085,-1.58],[0.015,-2.35],[0.115,-1.25],[0.215,-1.95],[0.315,-0.95],[0.395,-0.15],
  [0.545,1.05],[0.645,-0.72],[0.745,0.48],[0.845,1.22],[0.945,-0.25],
  [1.045,0.32],[1.145,-0.85],[1.245,1.05],[1.345,0.15],[1.445,-0.42],
  [1.545,0.95],[1.645,-0.35],[1.745,0.52],[1.845,1.35],[1.945,-0.65],
  [2.045,0.15],[2.145,0.88],[2.245,-0.55],[2.345,1.15],[2.445,0.42],
  [2.545,-0.28],[2.645,1.32],[2.745,-0.72],[2.845,0.48],[2.945,0.95]
];
const dModel = [
  [-3,0],[-0.45,0],[-0.42,-0.05],[-0.38,-0.38],[-0.34,-0.84],[-0.3,-1.17],[-0.25,-1.43],[-0.16,-1.59],[0,-1.66],
  [0.14,-1.61],[0.24,-1.45],[0.3,-1.2],[0.34,-0.8],[0.375,-0.32],[0.41,-0.05],[0.44,0],[3,0]
];

const orange = '#ff7f0e';
const tickFont = { family: 'DejaVu Sans', size: 10 };
const titleFont = { family: 'DejaVu Sans', size: 10.5 };

function minusLabel(v) {
  return v < 0 ? '\u2212' + Math.abs(v) : String(v);
}

// frame, planet label and the boxed legend inside the axes
const panelDecor = {
  id: 'panelDecor',
  afterDatasetsDraw(chart, args, opts) {
    const ctx = chart.ctx, a = chart.chartArea;
    ctx.save();
    ctx.strokeStyle = '#000';
    ctx.lineWidth = 1;
    ctx.strokeRect(a.left, a.top, a.right - a.left, a.bottom - a.top);

    ctx.fillStyle = '#000';
    ctx.font = 'bold 11.5px "DejaVu Sans"';
    ctx.textBaseline = 'middle';
    ctx.textAlign = 'left';
    ctx.fillText(opts.name, a.left + 5.5, a.top + 18.3);

    const w = 71, h = 35;
    const lx = a.right - 5.5 - w, ly = a.bottom - 5.5 - h;
    ctx.beginPath();
    ctx.roundRect(lx, ly, w, h, 3);
    ctx.fillStyle = 'rgba(255,255,255,0.8)';
    ctx.fill();
    ctx.strokeStyle = 'rgba(204,204,204,0.8)';
    ctx.stroke();

    ctx.beginPath();
    ctx.arc(lx + 15, ly + 8.5, 2, 0, Math.PI * 2);
    ctx.fillStyle = 'rgba(0,0,0,0.5)';
    ctx.fill();

    ctx.beginPath();
    ctx.moveTo(lx + 4, ly + 25);
    ctx.lineTo(lx + 26, ly + 25);
    ctx.strokeStyle = orange;
    ctx.lineWidth = 2;
    ctx.stroke();

    ctx.fillStyle = '#000';
    ctx.font = '10px "DejaVu Sans"';
    ctx.fillText(legendLabels[0], lx + 34, ly + 8.5);
    ctx.fillText(legendLabels[1], lx + 34, ly + 25);
    ctx.restore();
  }
};

function makePanel(id, name, points, model, bandEdge, bandWidth) {
  const toXY = p => ({ x: p[0], y: p[1] });
  new Chart(document.getElementById(id), {
    type: 'scatter',
    data: {
      datasets: [
        {
          label: legendLabels[1],
          data: model.map(toXY),
          showLine: true,
          borderColor: orange,
          borderWidth: 2,
          pointRadius: 0,
          cubicInterpolationMode: 'monotone',
          order: 0
        },
        {
          label: 'band',
          data: model.filter(p => Math.abs(p[0]) < bandEdge).map(toXY),
          showLine: true,
          borderColor: 'rgba(255,127,14,0.28)',
          borderWidth: bandWidth,
          borderCapStyle: 'round',
          borderJoinStyle: 'round',
          pointRadius: 0,
          cubicInterpolationMode: 'monotone',
          order: 1
        },
        {
          label: legendLabels[0],
          data: points.map(toXY),
          pointRadius: 2,
          pointBorderWidth: 0,
          pointBackgroundColor: 'rgba(0,0,0,0.55)',
          order: 2
        }
      ]
    },
    options: {
      responsive: false,
      animation: false,
      events: [],
      layout: { padding: { left: 6, right: 15, top: 10, bottom: 0 } },
      plugins: {
        legend: { display: false },
        tooltip: { enabled: false },
        panelDecor: { name: name }
      },
      scales: {
        x: {
          type: 'linear',
          min: xTicks[0],
          max: xTicks[xTicks.length - 1],
          afterBuildTicks: s => { s.ticks = xTicks.map(v => ({ value: v })); },
          afterFit: s => { s.height = 38.3; },
          grid: { drawOnChartArea: false, drawTicks: true, tickLength: 4, color: '#000' },
          border: { display: false },
          ticks: { color: '#000', font: tickFont, padding: 2, maxRotation: 0, callback: minusLabel },
          title: { display: true, text: 'time since transit [hours]', color: '#000', font: titleFont, padding: { top: 2, bottom: 5 } }
        },
        y: {
          type: 'linear',
          min: yTicks[0],
          max: yTicks[yTicks.length - 1],
          afterBuildTicks: s => { s.ticks = yTicks.map(v => ({ value: v })); },
          afterFit: s => { s.width = 42; },
          grid: { drawOnChartArea: false, drawTicks: true, tickLength: 4, color: '#000' },
          border: { display: false },
          ticks: { color: '#000', font: tickFont, padding: 2, callback: minusLabel },
          title: { display: true, text: 'de-trended flux (ppt)', color: '#000', font: titleFont, padding: { top: 5, bottom: 2 } }
        }
      }
    },
    plugins: [panelDecor]
  });
}

makePanel('panelB', 'L98-59 b', bPoints, bModel, 0.6, 5);
makePanel('panelC', 'L98-59 c', cPoints, cModel, 0.7, 7);
makePanel('panelD', 'L98-59 d', dPoints, dModel, 0.5, 10);
</script>
</body>
</html>
